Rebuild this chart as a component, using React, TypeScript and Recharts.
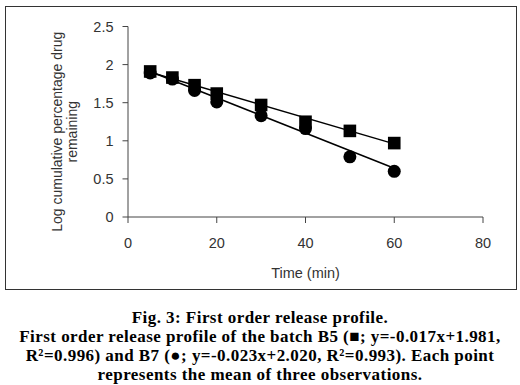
import { ComposedChart, Line, Scatter, XAxis, YAxis } from 'recharts';

// Time points (min)
const times = [5, 10, 15, 20, 30, 40, 50, 60];
// Log cumulative % drug remaining
const b5Values = [1.91, 1.83, 1.73, 1.62, 1.47, 1.25, 1.13, 0.97];
const b7Values = [1.89, 1.81, 1.66, 1.51, 1.33, 1.16, 0.79, 0.6];
// Trendline endpoints as drawn
const b5TrendX = [5, 60];
const b5TrendY = [1.9, 0.96];
const b7TrendX = [5, 60];
const b7TrendY = [1.91, 0.64];

const xTicks = [0, 20, 40, 60, 80];
const yTicks = [0, 0.5, 1, 1.5, 2, 2.5];

const b5 = times.map((x, i) => ({ x, y: b5Values[i] }));
const b7 = times.map((x, i) => ({ x, y: b7Values[i] }));
const b5Trend = b5TrendX.map((x, i) => ({ x, y: b5TrendY[i] }));
const b7Trend = b7TrendX.map((x, i) => ({ x, y: b7TrendY[i] }));

const FONT = '"Liberation Sans", Arial, sans-serif';
const tickStyle = { fontSize: 14.5, fill: '#333', fontFamily: FONT };

const SquareMark = (props: any) => (
  <rect x={props.cx - 6.3} y={props.cy - 6.3} width={12.6} height={12.6} fill="#000" />
);
const CircleMark = (props: any) => <circle cx={props.cx} cy={props.cy} r={6.5} fill="#000" />;

const YLabel = (props: any) => {
  const vb = props.viewBox;
  const cy = vb.y + vb.height / 2 + 10;
  return (
    <g style={{ fontSize: 14, fill: '#333', fontFamily: FONT }}>
      <text x={51} y={cy} textAnchor="middle" dominantBaseline="central" transform={`rotate(-90, 51, ${cy})`}>
        Log cumulative percentage drug
      </text>
      <text x={66} y={cy} textAnchor="middle" dominantBaseline="central" transform={`rotate(-90, 66, ${cy})`}>
        remaining
      </text>
    </g>
  );
};

const XLabel = (props: any) => {
  const vb = props.viewBox;
  return (
    <text
      x={vb.x + vb.width / 2}
      y={266}
      textAnchor="middle"
      dominantBaseline="central"
      style={{ fontSize: 14.5, fill: '#333', fontFamily: FONT }}
    >
      Time (min)
    </text>
  );
};

export default function App() {
  return (
    <div style={{ position: 'absolute', left: 0, top: 0, width: 520, height: 385, background: '#fff' }}>
      <div
        style={{
          position: 'absolute',
          left: 5,
          top: 6,
          width: 512,
          height: 284,
          border: '1px solid #333',
          boxSizing: 'border-box',
        }}
      >
        <ComposedChart width={510} height={282} margin={{ top: 19.5, right: 33, bottom: 0, left: 0 }}>
          <XAxis
            type="number"
            dataKey="x"
            domain={[0, 80]}
            ticks={xTicks}
            height={72}
            tick={tickStyle}
            tickSize={6}
            tickMargin={15}
            stroke="#444"
            label={{ content: XLabel }}
          />
          <YAxis
            type="number"
            dataKey="y"
            domain={[0, 2.5]}
            ticks={yTicks}
            width={122}
            tick={tickStyle}
            tickSize={5.5}
            tickMargin={9}
            stroke="#444"
            label={{ content: YLabel }}
          />
          <Line data={b5Trend} dataKey="y" stroke="#000" strokeWidth={1.5} dot={false} isAnimationActive={false} />
          <Line data={b7Trend} dataKey="y" stroke="#000" strokeWidth={1.5} dot={false} isAnimationActive={false} />
          <Scatter data={b5} dataKey="y" shape={SquareMark} isAnimationActive={false} />
          <Scatter data={b7} dataKey="y" shape={CircleMark} isAnimationActive={false} />
        </ComposedChart>
      </div>
      <div
        style={{
          position: 'absolute',
          left: 0,
          top: 308,
          width: 520,
          textAlign: 'center',
          fontFamily: '"Liberation Serif", "Times New Roman", serif',
          fontWeight: 'bold',
          fontSize: 17,
          letterSpacing: 0.45,
          lineHeight: '19px',
          color: '#000',
        }}
      >
        Fig. 3: First order release profile.
        <br />
        First order release profile of the batch B5 (■; y=-0.017x+1.981,
        <br />
        R²=0.996) and B7 (●; y=-0.023x+2.020, R²=0.993). Each point
        <br />
        represents the mean of three observations.
      </div>
    </div>
  );
}
